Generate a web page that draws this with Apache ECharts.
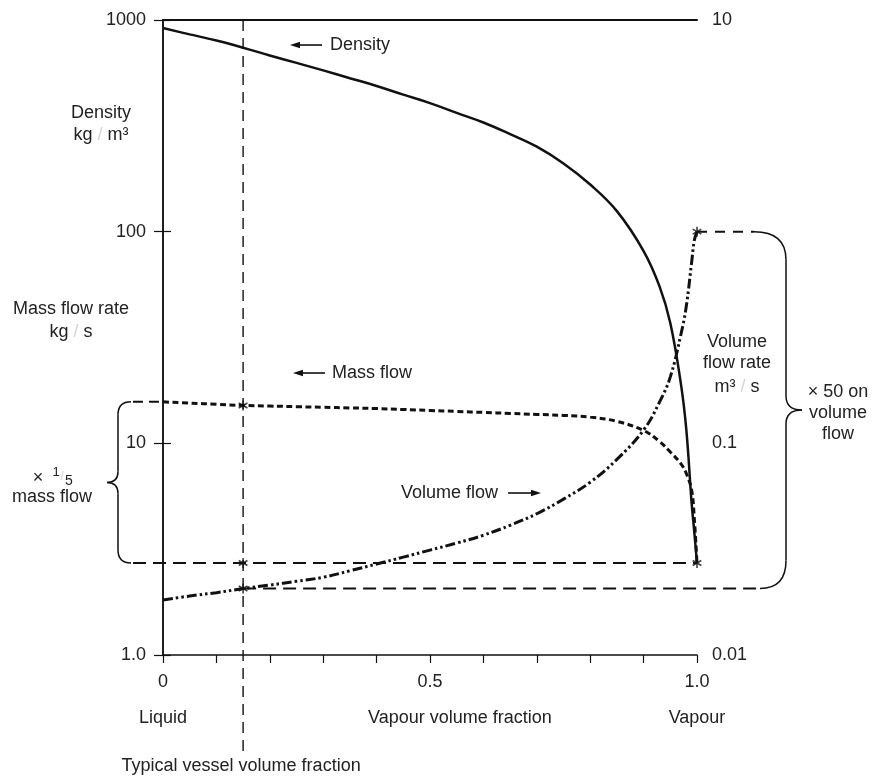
<!DOCTYPE html>
<html>
<head>
<meta charset="utf-8">
<script src="https://cdn.jsdelivr.net/npm/echarts@6/dist/echarts.min.js"></script>
<style>
  html, body { margin: 0; padding: 0; background: #fff; }
  #chart { width: 887px; height: 781px; }
</style>
</head>
<body>
<div id="chart"></div>
<script>
// Vapour volume fraction (0 = all liquid, 1 = all vapour)
const fraction   = [0, 0.05, 0.1, 0.15, 0.2, 0.25, 0.3, 0.35, 0.4, 0.45, 0.5, 0.55, 0.6, 0.65, 0.7, 0.75, 0.8, 0.85, 0.9, 0.93, 0.95, 0.97, 0.98, 0.99, 0.995, 1.0];
// Mixture density, kg/m3 (left axis)
const density    = [916, 855, 800, 740, 680, 627, 578, 531, 488, 444, 405, 364, 328, 289, 252, 210, 167, 125, 81, 55, 37, 19, 11.6, 5.2, 3.8, 2.72];
// Mass flow rate, kg/s (left axis)
const massFlow   = [15.7, 15.5, 15.3, 15.1, 15.0, 14.9, 14.8, 14.7, 14.6, 14.45, 14.3, 14.15, 14.0, 13.85, 13.7, 13.55, 13.3, 12.7, 11.5, 10.2, 9.1, 8.0, 7.2, 6.0, 4.4, 2.72];
// Volume flow rate, m3/s (right axis)
const volumeFlow = [0.0182, 0.0190, 0.0197, 0.0206, 0.0214, 0.0223, 0.0233, 0.025, 0.0269, 0.029, 0.0313, 0.0338, 0.0368, 0.041, 0.0465, 0.0545, 0.0655, 0.084, 0.1155, 0.157, 0.206, 0.328, 0.445, 0.718, 0.91, 1.0];

// Typical vessel volume fraction
const vesselFraction = 0.15;

// Tick labels
const xTickValues = [0, 0.5, 1];
const xTickText   = ['0', '0.5', '1.0'];
const leftTickValues  = [1, 10, 100, 1000];
const leftTickText    = ['1.0', '10', '100', '1000'];
const rightTickValues = [0.01, 0.1, 10];
const rightTickText   = ['0.01', '0.1', '10'];

const FONT = '"Liberation Sans", Arial, Helvetica, sans-serif';
const INK = '#111';
const TXT = '#222';

function lookup(values, texts) {
  return function (v) {
    for (let i = 0; i < values.length; i++) {
      if (Math.abs(v - values[i]) <= Math.abs(values[i]) * 1e-6 + 1e-12) return texts[i];
    }
    return '';
  };
}

const pairs = ys => fraction.map((f, i) => [f, ys[i]]);
const vesselIdx = fraction.indexOf(vesselFraction);
const lastIdx = fraction.length - 1;

const chart = echarts.init(document.getElementById('chart'), null, { renderer: 'canvas' });

const labelStyle = { fontSize: 18, fontFamily: FONT, color: TXT };

// Asterisk-like point marker
const starSymbol = 'path://M0,-5L0,5M-4.33,-2.5L4.33,2.5M-4.33,2.5L4.33,-2.5';

chart.setOption({
  animation: false,
  backgroundColor: '#fff',
  grid: { left: 163, right: 190, top: 20, bottom: 126 },
  xAxis: [
    {
      type: 'value', min: 0, max: 1, interval: 0.1, position: 'bottom',
      axisLine: { show: true, lineStyle: { color: INK, width: 1.5 } },
      axisTick: { show: true, length: 8, lineStyle: { color: INK, width: 1.2 } },
      axisLabel: Object.assign({ formatter: lookup(xTickValues, xTickText), margin: 18, showMinLabel: true, showMaxLabel: true }, labelStyle),
      splitLine: { show: false }
    },
    {
      type: 'value', min: 0, max: 1, position: 'top',
      axisLine: { show: true, lineStyle: { color: INK, width: 2 } },
      axisTick: { show: false }, axisLabel: { show: false }, splitLine: { show: false }
    }
  ],
  yAxis: [
    {
      type: 'log', logBase: 10, min: 1, max: 1000, position: 'left',
      axisLine: { show: true, lineStyle: { color: INK, width: 1.5 } },
      axisTick: { show: true, length: 9, lineStyle: { color: INK, width: 1.2 } },
      axisLabel: Object.assign({ formatter: lookup(leftTickValues, leftTickText), margin: 17 }, labelStyle),
      splitLine: { show: false }, minorTick: { show: false }
    },
    {
      type: 'log', logBase: 10, min: 0.01, max: 10, position: 'right',
      axisLine: { show: true, lineStyle: { color: INK, width: 1.5 } },
      axisTick: { show: true, length: 8, lineStyle: { color: INK, width: 1.2 } },
      axisLabel: Object.assign({ formatter: lookup(rightTickValues, rightTickText), margin: 15 }, labelStyle),
      splitLine: { show: false }, minorTick: { show: false }
    }
  ],
  series: [
    {
      name: 'Density', type: 'line', xAxisIndex: 0, yAxisIndex: 0,
      data: pairs(density), showSymbol: false, smooth: 0.4,
      lineStyle: { color: INK, width: 2.5 }, z: 3
    },
    {
      name: 'Mass flow', type: 'line', xAxisIndex: 0, yAxisIndex: 0,
      data: pairs(massFlow), showSymbol: false, smooth: 0.4,
      lineStyle: { color: INK, width: 3, type: [6, 3.5] }, z: 3
    },
    {
      name: 'Volume flow', type: 'line', xAxisIndex: 0, yAxisIndex: 1,
      data: pairs(volumeFlow), showSymbol: false, smooth: 0.4,
      lineStyle: { color: INK, width: 3, type: [10, 3, 2.5, 3, 2.5, 3] }, z: 3
    },
    {
      name: 'Mass points', type: 'scatter', xAxisIndex: 0, yAxisIndex: 0, clip: false,
      data: [
        [vesselFraction, massFlow[vesselIdx]],
        [vesselFraction, massFlow[lastIdx]],
        [fraction[lastIdx], massFlow[lastIdx]]
      ],
      symbol: starSymbol, symbolSize: 10, symbolKeepAspect: true,
      itemStyle: { color: 'rgba(0,0,0,0)', borderColor: INK, borderWidth: 1.6 }, z: 5
    },
    {
      name: 'Volume points', type: 'scatter', xAxisIndex: 0, yAxisIndex: 1, clip: false,
      data: [
        [vesselFraction, volumeFlow[vesselIdx]],
        [fraction[lastIdx], volumeFlow[lastIdx]]
      ],
      symbol: starSymbol, symbolSize: 10, symbolKeepAspect: true,
      itemStyle: { color: 'rgba(0,0,0,0)', borderColor: INK, borderWidth: 1.6 }, z: 5
    }
  ]
});

// ---- Annotations placed through the axis scales ----
const X  = v => chart.convertToPixel({ xAxisIndex: 0 }, v);
const YL = v => chart.convertToPixel({ yAxisIndex: 0 }, v);
const YR = v => chart.convertToPixel({ yAxisIndex: 1 }, v);

function seg(x1, y1, x2, y2, w, dash) {
  return { type: 'line', silent: true, z: 10,
    shape: { x1, y1, x2, y2 },
    style: { stroke: INK, lineWidth: w || 1.5, lineDash: dash || null } };
}
function bend(x1, y1, cx, cy, x2, y2, w) {
  return { type: 'bezierCurve', silent: true, z: 10,
    shape: { x1, y1, x2, y2, cpx1: cx, cpy1: cy },
    style: { stroke: INK, lineWidth: w || 1.5, fill: null } };
}
function label(str, x, y, align, size, color) {
  return { type: 'text', silent: true, z: 12, x, y,
    style: { text: str, font: (size || 18) + 'px ' + FONT, fill: color || TXT,
      textAlign: align || 'center', textVerticalAlign: 'middle', verticalAlign: 'middle' } };
}
function unitLabel(before, after, x, y) {
  // unit text with a faint solidus
  return { type: 'text', silent: true, z: 12, x, y,
    style: {
      text: '{a|' + before + '}{s|/}{a|' + after + '}',
      textAlign: 'center', textVerticalAlign: 'middle', verticalAlign: 'middle',
      rich: {
        a: { font: '18px ' + FONT, fill: TXT, color: TXT },
        s: { font: '18px ' + FONT, fill: '#d4d4d4', color: '#d4d4d4' }
      }
    } };
}
function arrow(xFrom, xTo, y) {
  // line from xFrom to xTo with a filled head at xTo
  const d = xTo > xFrom ? 1 : -1;
  return [
    seg(xFrom, y, xTo - d * 6, y, 1.6),
    { type: 'polygon', silent: true, z: 10,
      shape: { points: [[xTo, y], [xTo - d * 10, y - 3.2], [xTo - d * 10, y + 3.2]] },
      style: { fill: INK } }
  ];
}

function buildAnnotations() {
  const g = [];
  const gridTop = YL(1000);

  // Typical vessel volume fraction guide
  const xv = X(vesselFraction);
  g.push(seg(xv, gridTop, xv, 757, 1.4, [11, 7]));

  // Left brace: mass flow range (liquid -> vapour)
  const xb = 118;
  const lt = YL(massFlow[0]);
  const lb = YL(massFlow[lastIdx]);
  const lm = (lt + lb) / 2;
  g.push(bend(xb + 13, lt, xb, lt, xb, lt + 13));
  g.push(seg(xb, lt + 13, xb, lm - 11));
  g.push(bend(xb, lm - 11, xb, lm, xb - 11, lm));
  g.push(bend(xb - 11, lm, xb, lm, xb, lm + 11));
  g.push(seg(xb, lm + 11, xb, lb - 13));
  g.push(bend(xb, lb - 13, xb, lb, xb + 13, lb));
  g.push(seg(xb + 15, lt, X(0) - 2, lt, 2, [10, 6]));
  g.push(seg(xb + 15, lb, X(1), lb, 2, [13, 7]));

  // Right brace: volume flow range (vessel fraction -> vapour)
  const xr = 786;
  const rt = YR(volumeFlow[lastIdx]);
  const rb = YR(volumeFlow[vesselIdx]);
  const rm = (rt + rb) / 2;
  g.push(seg(X(1), rt, xr - 32, rt, 2, [10, 8]));
  g.push(bend(xr - 32, rt, xr, rt, xr, rt + 28));
  g.push(seg(xr, rt + 28, xr, rm - 14));
  g.push(bend(xr, rm - 14, xr, rm, xr + 16, rm));
  g.push(bend(xr + 16, rm, xr, rm, xr, rm + 14));
  g.push(seg(xr, rm + 14, xr, rb - 28));
  g.push(bend(xr, rb - 28, xr, rb, xr - 26, rb));
  g.push(seg(xv, rb, xr - 26, rb, 2, [13, 7]));

  // Curve call-outs
  g.push(...arrow(322, 290, 45));
  g.push(label('Density', 330, 45, 'left'));
  g.push(...arrow(325, 293, 373));
  g.push(label('Mass flow', 332, 373, 'left'));
  g.push(label('Volume flow', 498, 493, 'right'));
  g.push(...arrow(508, 541, 493));

  // Left axis titles
  g.push(label('Density', 101, 113));
  g.push(unitLabel('kg ', ' m³', 101, 135));
  g.push(label('Mass flow rate', 71, 309));
  g.push(unitLabel('kg ', ' s', 71, 332));

  // Left brace note: x 1/5 mass flow
  g.push(label('×', 38, 478));
  g.push(label('1', 56, 472, 'center', 13));
  g.push(label('/', 62, 476, 'center', 13, '#d4d4d4'));
  g.push(label('5', 69, 481, 'center', 14));
  g.push(label('mass flow', 52, 497));

  // Right axis title
  g.push(label('Volume', 737, 342));
  g.push(label('flow rate', 737, 363));
  g.push(unitLabel('m³ ', ' s', 737, 387));

  // Right brace note
  g.push(label('× 50 on', 838, 392));
  g.push(label('volume', 838, 413));
  g.push(label('flow', 838, 434));

  // Bottom captions
  g.push(label('Liquid', X(0), 718));
  g.push(label('Vapour volume fraction', 460, 718));
  g.push(label('Vapour', X(1), 718));
  g.push(label('Typical vessel volume fraction', xv - 2, 766));

  return g;
}

chart.setOption({ graphic: { elements: buildAnnotations() } });
</script>
</body>
</html>
